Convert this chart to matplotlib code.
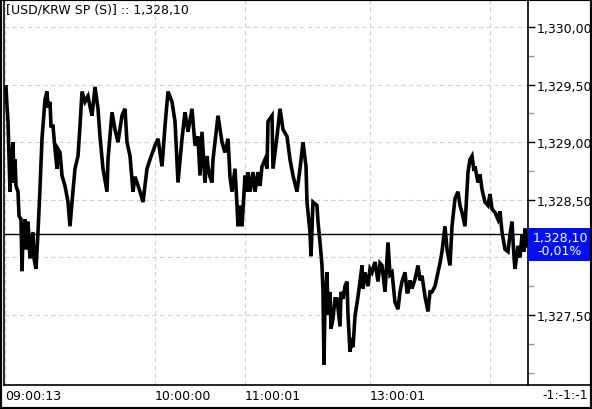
import matplotlib.pyplot as plt
from matplotlib.patches import Rectangle
from matplotlib.lines import Line2D
from matplotlib.ticker import FuncFormatter, MultipleLocator

# price samples (x = sample position, price)
sample_x = [6, 7, 8, 10, 11, 13, 14, 15, 16, 18, 19, 21, 22, 23, 25, 26, 28, 30, 33, 34,
            36, 38, 40, 42, 45, 47, 48, 50, 51, 53, 55, 57, 58, 60, 62, 65, 68, 70, 72, 75,
            78, 80, 82, 85, 88, 90, 92, 95, 98, 100, 103, 107, 108, 112, 115, 118, 122, 125, 127, 130,
            133, 135, 137, 140, 143, 147, 150, 155, 158, 162, 165, 168, 172, 175, 178, 182, 185, 188, 192, 195,
            198, 200, 202, 205, 207, 208, 210, 212, 213, 215, 218, 222, 225, 228, 230, 232, 235, 237, 238, 240,
            242, 245, 247, 248, 250, 253, 255, 258, 260, 262, 265, 267, 268, 272, 273, 277, 280, 283, 287, 290,
            293, 297, 300, 303, 306, 307, 310, 311, 313, 317, 318, 320, 322, 323, 324, 325, 327, 328, 330, 331,
            333, 335, 337, 340, 341, 343, 345, 347, 348, 350, 352, 353, 355, 358, 360, 362, 363, 365, 368, 370,
            372, 375, 378, 380, 382, 385, 388, 390, 392, 395, 398, 400, 402, 405, 407, 408, 410, 412, 415, 418,
            420, 422, 425, 428, 430, 432, 435, 438, 440, 442, 445, 447, 450, 452, 455, 458, 460, 462, 465, 468,
            470, 472, 474, 475, 478, 480, 482, 485, 488, 490, 492, 495, 498, 500, 502, 505, 508, 510, 512, 514,
            515, 518, 520, 522, 524, 525, 527]
price = [1329.48, 1329.31, 1329.18, 1328.57, 1328.85, 1329.00, 1328.65, 1328.85, 1328.62, 1328.57,
         1328.36, 1328.33, 1327.88, 1328.20, 1328.33, 1328.07, 1328.31, 1327.99, 1328.22, 1327.99,
         1327.90, 1328.22, 1328.60, 1329.03, 1329.37, 1329.44, 1329.30, 1329.35, 1329.14, 1329.14,
         1328.94, 1328.77, 1328.94, 1328.91, 1328.71, 1328.62, 1328.48, 1328.27, 1328.48, 1328.77,
         1328.88, 1329.14, 1329.44, 1329.35, 1329.40, 1329.31, 1329.23, 1329.48, 1329.29, 1329.05,
         1328.77, 1328.57, 1328.85, 1329.26, 1329.11, 1329.00, 1329.23, 1329.29, 1329.00, 1328.88,
         1328.57, 1328.70, 1328.65, 1328.57, 1328.48, 1328.77, 1328.85, 1328.97, 1329.03, 1328.79,
         1329.14, 1329.44, 1329.35, 1329.18, 1328.65, 1329.03, 1329.26, 1329.09, 1329.29, 1328.97,
         1329.05, 1328.71, 1329.09, 1328.65, 1328.88, 1328.79, 1328.70, 1328.65, 1328.85, 1329.00,
         1329.23, 1329.00, 1328.91, 1329.03, 1328.70, 1328.57, 1328.77, 1328.45, 1328.27, 1328.45,
         1328.27, 1328.71, 1328.57, 1328.74, 1328.57, 1328.74, 1328.57, 1328.74, 1328.62, 1328.79,
         1328.85, 1328.77, 1329.18, 1329.23, 1328.77, 1329.05, 1329.29, 1329.11, 1329.05, 1328.85,
         1328.71, 1328.57, 1328.77, 1329.00, 1328.79, 1328.48, 1328.22, 1328.01, 1328.48, 1328.45,
         1328.31, 1328.13, 1327.93, 1327.70, 1327.07, 1327.60, 1327.87, 1327.50, 1327.70, 1327.38,
         1327.47, 1327.64, 1327.64, 1327.40, 1327.70, 1327.64, 1327.75, 1327.79, 1327.50, 1327.18,
         1327.30, 1327.22, 1327.49, 1327.66, 1327.79, 1327.93, 1327.73, 1327.87, 1327.75, 1327.90,
         1327.87, 1327.96, 1327.79, 1327.95, 1327.93, 1327.70, 1328.13, 1327.85, 1327.87, 1327.61,
         1327.55, 1327.70, 1327.79, 1327.87, 1327.70, 1327.70, 1327.80, 1327.73, 1327.81, 1327.93,
         1327.80, 1327.84, 1327.66, 1327.53, 1327.70, 1327.70, 1327.75, 1327.87, 1327.95, 1328.05,
         1328.27, 1328.07, 1327.93, 1328.27, 1328.51, 1328.57, 1328.45, 1328.39, 1328.27, 1328.74,
         1328.85, 1328.88, 1328.75, 1328.79, 1328.65, 1328.72, 1328.59, 1328.48, 1328.45, 1328.55,
         1328.42, 1328.39, 1328.33, 1328.40, 1328.22, 1328.07, 1328.05, 1328.20, 1328.31, 1328.00,
         1327.90, 1328.10, 1328.00, 1328.19, 1328.05, 1328.25, 1328.10]

# axis labels
time_ticks = [5, 155, 245, 370, 490]
time_labels = ['09:00:13', '10:00:00', '11:00:01', '13:00:01', '']
price_ticks = [1327.5, 1328.0, 1328.5, 1329.0, 1329.5, 1330.0]
hidden_tick = 1328.0   # covered by the last-price box
title_text = '[USD/KRW SP (S)] :: 1,328,10'
last_text = '1,328,10\n-0,01%'
current_level = 1328.20
change_text = '-1:-1:-1'


def price_fmt(v, p):
    if abs(v - hidden_tick) < 1e-6:
        return ''
    return f'{v:,.2f}'.replace('.', '#').replace('#', ',')


W, H = 592, 410
fig = plt.figure(figsize=(W / 100, H / 100), dpi=100)
ax = fig.add_axes([4 / W, 24 / H, 524 / W, 386 / H])

ax.plot(sample_x, price, color='black', lw=2.6, solid_joinstyle='miter')
ax.axhline(current_level, color='black', lw=1)

ax.set_xlim(4, 528)
ax.set_ylim(1326.892, 1330.243)

# 网格
ax.set_xticks(time_ticks)
ax.set_xticklabels(time_labels, ha='left', fontsize=9)
ax.tick_params(axis='x', length=0, pad=3)
ax.yaxis.tick_right()
ax.set_yticks(price_ticks)
ax.yaxis.set_minor_locator(MultipleLocator(0.25))
ax.yaxis.set_major_formatter(FuncFormatter(price_fmt))
ax.tick_params(axis='y', which='major', length=5, width=1, pad=1, labelsize=9)
ax.tick_params(axis='y', which='minor', length=4, width=1, color='#999999')
ax.grid(True, which='major', color='#d0d0d0', ls=(0, (4, 3)), lw=0.8)

for s in ['left', 'right', 'bottom']:
    ax.spines[s].set_color('black')
    ax.spines[s].set_linewidth(1.2)
ax.spines['top'].set_visible(False)

ax.text(6, 1330.16, title_text, fontsize=9, va='center', ha='left')

# 右侧价格标签
fig.add_artist(Rectangle((528 / W, 148 / H), 62 / W, 33 / H, transform=fig.transFigure,
                         facecolor='#0010f0', edgecolor='none'))
fig.text(560 / W, 165 / H, last_text, color='white', fontsize=9, ha='center', va='center',
         linespacing=1.0)

fig.text(588 / W, 14 / H, change_text, fontsize=9, ha='right', va='center')
fig.add_artist(Line2D([528 / W, 1], [24 / H, 24 / H], transform=fig.transFigure,
                      color='black', lw=1.2))
fig.add_artist(Rectangle((0, 0), 1, 1, transform=fig.transFigure, fill=False,
                         edgecolor='black', lw=3))

fig.savefig('out.png', dpi=100)
print('done')
